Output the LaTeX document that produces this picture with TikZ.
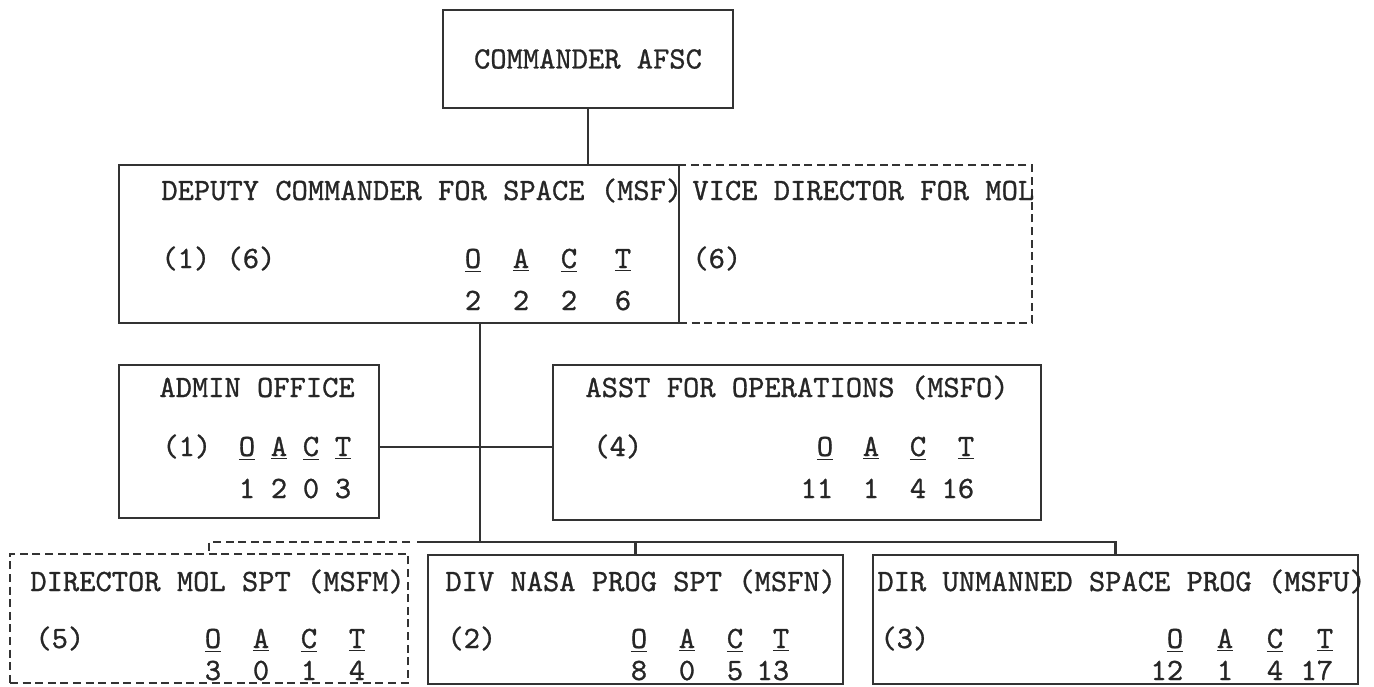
\documentclass[tikz,border=0pt]{standalone}
\usepackage{fontspec}
\usetikzlibrary{positioning}

\newfontfamily\typer{lmmono10-regular.otf}[FakeBold=0.9]
% numerator over a bar, count right-aligned below it
\newcommand{\frc}[3][3pt]{\begin{tabular}[t]{@{}c@{}}\underline{#2}\\[#1]\makebox[0.525em][r]{#3}\end{tabular}}

\begin{document}
\begin{tikzpicture}[x=0.5pt, y=-0.5pt,
  font=\typer\fontsize{15.5}{18}\selectfont,
  unit/.style={draw=black!80, line width=1.15pt, inner sep=0pt, outer sep=0pt},
  dunit/.style={unit, line width=1.3pt, dash pattern=on 4pt off 2.3pt},
  link/.style={draw=black!80, line width=1.15pt},
  dlink/.style={link, line width=1.3pt, dash pattern=on 4pt off 2.3pt},
  txt/.style={inner sep=0pt, anchor=base west, text=black!85},
  cnt/.style={inner sep=0pt, anchor=base, text=black!85}
]
  \useasboundingbox (0,0) rectangle (1374,686);

  % boxes
  \node[unit, minimum width=145pt, minimum height=49pt, text=black!85] (cmd) at (588,59) {COMMANDER AFSC};
  \node[dunit, minimum width=176.5pt, minimum height=79pt] (vice) at (855.5,244) {};
  \node[unit, minimum width=280pt, minimum height=79pt] (dep) at (399,244) {};
  \node[unit, minimum width=130pt, minimum height=76.5pt] (adm) at (249,441.5) {};
  \node[unit, minimum width=244pt, minimum height=77.5pt] (ast) at (797,442.5) {};
  \node[dunit, minimum width=199pt, minimum height=64.5pt] (mol) at (209,618.5) {};
  \node[unit, minimum width=207.5pt, minimum height=64.5pt] (nasa) at (635.5,619.5) {};
  \node[unit, minimum width=242.5pt, minimum height=64.5pt] (unm) at (1115.5,619.5) {};

  % deputy commander
  \node[txt] at (161,200) {DEPUTY COMMANDER FOR SPACE (MSF)};
  \node[txt] at (161,268) {(1) (6)};
  \node[cnt] at (473,268) {\frc{O}{2}};
  \node[cnt] at (521,268) {\frc{A}{2}};
  \node[cnt] at (569,268) {\frc{C}{2}};
  \node[cnt] at (623,268) {\frc{T}{6}};

  % vice director
  \node[txt] at (692,200) {VICE DIRECTOR FOR MOL};
  \node[txt] at (692,268) {(6)};

  % admin office
  \node[txt] at (159,397) {ADMIN OFFICE};
  \node[txt] at (162,456) {(1)};
  \node[cnt] at (247,456) {\frc{O}{1}};
  \node[cnt] at (279,456) {\frc{A}{2}};
  \node[cnt] at (311,456) {\frc{C}{0}};
  \node[cnt] at (343,456) {\frc{T}{3}};

  % asst for operations
  \node[txt] at (585,397) {ASST FOR OPERATIONS (MSFO)};
  \node[txt] at (593,456) {(4)};
  \node[cnt] at (825,456) {\frc{O}{11}};
  \node[cnt] at (871,456) {\frc{A}{1}};
  \node[cnt] at (918,456) {\frc{C}{4}};
  \node[cnt] at (966,456) {\frc{T}{16}};

  % director mol spt
  \node[txt] at (30,591) {DIRECTOR MOL SPT (MSFM)};
  \node[txt] at (35,648) {(5)};
  \node[cnt] at (213,648) {\frc[-2pt]{O}{3}};
  \node[cnt] at (261,648) {\frc[-2pt]{A}{0}};
  \node[cnt] at (309,648) {\frc[-2pt]{C}{1}};
  \node[cnt] at (357,648) {\frc[-2pt]{T}{4}};

  % div nasa prog spt
  \node[txt] at (445,591) {DIV NASA PROG SPT (MSFN)};
  \node[txt] at (447,648) {(2)};
  \node[cnt] at (639,648) {\frc[-2pt]{O}{8}};
  \node[cnt] at (687,648) {\frc[-2pt]{A}{0}};
  \node[cnt] at (735,648) {\frc[-2pt]{C}{5}};
  \node[cnt] at (781,648) {\frc[-2pt]{T}{13}};

  % dir unmanned space prog
  \node[txt] at (877,591) {DIR UNMANNED SPACE PROG (MSFU)};
  \node[txt] at (880,648) {(3)};
  \node[cnt] at (1175,648) {\frc[-2pt]{O}{12}};
  \node[cnt] at (1225,648) {\frc[-2pt]{A}{1}};
  \node[cnt] at (1275,648) {\frc[-2pt]{C}{4}};
  \node[cnt] at (1325,648) {\frc[-2pt]{T}{17}};

  % connectors
  \coordinate (hub) at (480,447);
  \coordinate (bus) at (480,542);
  \draw[link] (cmd.south) -- (cmd.south |- dep.north);
  \draw[link] (dep.south -| hub) -- (bus);
  \draw[link] (adm.east |- hub) -- (ast.west |- hub);
  \draw[link] (417,542) -- (unm.north |- bus) -- (unm.north);
  \draw[link] (nasa.north |- bus) -- (nasa.north);
  \draw[dlink] (410,542) -- (mol.north |- bus) -- (mol.north);
\end{tikzpicture}
\end{document}
